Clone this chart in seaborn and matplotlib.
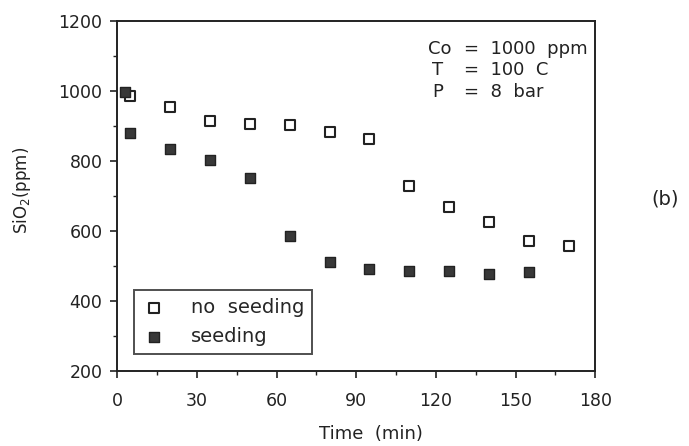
import matplotlib
matplotlib.use("Agg")
import matplotlib.pyplot as plt
import seaborn as sns
import pandas as pd

# Data
t_no_seed = [5, 20, 35, 50, 65, 80, 95, 110, 125, 140, 155, 170]
sio2_no_seed = [985, 955, 915, 905, 903, 882, 862, 730, 670, 625, 572, 557]
t_seed = [3, 5, 20, 35, 50, 65, 80, 95, 110, 125, 140, 155]
sio2_seed = [998, 880, 835, 803, 752, 585, 512, 492, 487, 487, 476, 482]
x_ticks = [0, 30, 60, 90, 120, 150, 180]
y_ticks = [200, 400, 600, 800, 1000, 1200]
cond_names = ["Co", "T", "P"]
cond_values = ["=  1000  ppm", "=  100  C", "=  8  bar"]

sns.set_theme(style="ticks")
plt.rcParams['font.family'] = ['DejaVu Sans']
INK = "#222222"

df_no = pd.DataFrame({"t": t_no_seed, "c": sio2_no_seed})
df_se = pd.DataFrame({"t": t_seed, "c": sio2_seed})

fig = plt.figure(figsize=(6.89, 4.46), dpi=100)
ax = fig.add_axes([0.170, 0.168, 0.694, 0.785])

sns.scatterplot(data=df_no, x="t", y="c", ax=ax, marker="s", s=58,
                facecolor="white", edgecolor=INK, linewidth=1.5,
                label="no  seeding", zorder=3)
sns.scatterplot(data=df_se, x="t", y="c", ax=ax, marker="s", s=58,
                color="#383838", edgecolor=INK, linewidth=1.0,
                label="seeding", zorder=3)

ax.set_xlim(0, 180)
ax.set_ylim(200, 1200)
ax.set_xticks(x_ticks)
ax.set_yticks(y_ticks)
ax.set_xticks(range(15, 180, 30), minor=True)
ax.set_yticks(range(300, 1200, 200), minor=True)
ax.tick_params(axis="both", which="major", direction="out", length=5, width=1.2,
               labelsize=12.5, colors=INK)
ax.tick_params(axis="x", which="major", pad=10)
ax.tick_params(axis="y", which="major", pad=5.5)
ax.tick_params(axis="both", which="minor", direction="out", length=3, width=1.0,
               colors=INK)
for sp in ax.spines.values():
    sp.set_visible(True)
    sp.set_color(INK)
    sp.set_linewidth(1.4)

ax.set_xlabel("Time  (min)", fontsize=13, color=INK)
ax.set_ylabel("SiO$_2$(ppm)", fontsize=12, color=INK)
ax.xaxis.set_label_coords(0.53, -0.155)
ax.yaxis.set_label_coords(-0.176, 0.515)

leg = ax.legend(loc="lower left", bbox_to_anchor=(0.036, 0.05), frameon=True,
                fancybox=False, edgecolor=INK, fontsize=14,
                handletextpad=1.3, borderpad=0.4, labelspacing=0.5,
                handlelength=1.2, borderaxespad=0.0)
leg.get_frame().set_linewidth(1.4)

name_x = [117.0, 118.6, 118.8]
row_y = [1120, 1060, 998]
for nm, val, nx, yy in zip(cond_names, cond_values, name_x, row_y):
    ax.text(nx, yy, nm, ha="left", va="center", fontsize=13, color=INK)
    ax.text(130.5, yy, val, ha="left", va="center", fontsize=13, color=INK)

fig.text(0.965, 0.554, "(b)", fontsize=14, color=INK, ha="center", va="center")

fig.savefig("out.png", dpi=100)
